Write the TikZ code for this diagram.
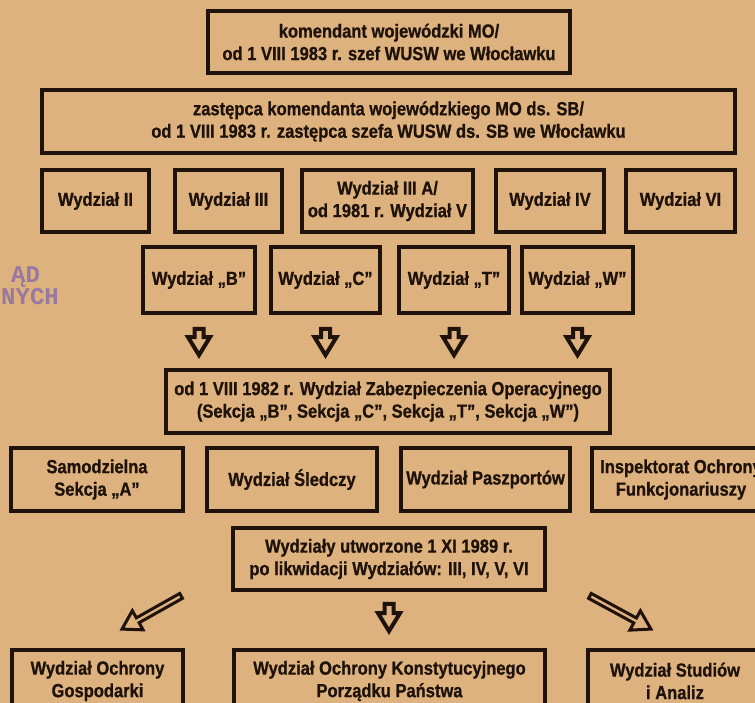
\documentclass[tikz,border=0pt]{standalone}
\usepackage{fontspec}
\setmainfont{Liberation Sans}[FakeStretch=0.87, FakeBold=0.8]
\newfontfamily\stampfont{Liberation Mono}
\usetikzlibrary{calc}
\definecolor{paper}{HTML}{DDB27E}
\definecolor{ink}{HTML}{1E120A}
\definecolor{stampink}{HTML}{8A6EA6}
\tikzset{
  box/.style={draw=ink, line width=3.8pt, inner sep=0pt, align=center, text=ink,
    font=\fontsize{19}{22.5}\selectfont\bfseries},
  barrow/.style={draw=ink, fill=paper, line width=4pt, line join=miter},
  darrow/.style={draw=ink, fill=paper, line width=3pt, line join=miter},
  stamptext/.style={text=stampink, opacity=0.85, anchor=base west, inner sep=0pt,
    font=\stampfont\fontsize{24}{24}\selectfont\bfseries},
}
% #1 style, #2 from, #3 to, #4 shaft half width, #5 head half width, #6 head length
\newcommand\blockarrow[6]{%
  \draw[#1] let \p1=($(#3)-(#2)$), \n1={atan2(\y1,\x1)}, \n2={veclen(\x1,\y1)} in
    [shift={(#2)}, rotate=\n1]
    (0,-#4) -- ({\n2-#6},-#4) -- ({\n2-#6},-#5) -- (\n2,0) -- ({\n2-#6},#5)
    -- ({\n2-#6},#4) -- (0,#4) -- cycle;}
\begin{document}
\begin{tikzpicture}[x=1pt,y=-1pt]
\useasboundingbox (0,0) rectangle (755,703);
\fill[paper] (0,0) rectangle (755,703);
\clip (0,0) rectangle (755,703);

% stamp
\node[stamptext] (st1) at (11,283) {ĄD};
\node[stamptext] (st2) at (1,305) {NYCH};

% boxes
\node[box, minimum width=362pt, minimum height=62pt] (kom) at (389,42)
  {komendant wojewódzki MO/\\od 1 VIII 1983 r. szef WUSW we Włocławku};
\node[box, minimum width=693pt, minimum height=63pt] (zast) at (388.5,121.5)
  {zastępca komendanta wojewódzkiego MO ds. SB/\\od 1 VIII 1983 r. zastępca szefa WUSW ds. SB we Włocławku};

\node[box, minimum width=107pt, minimum height=62pt] (w2) at (95.5,201) {Wydział II};
\node[box, minimum width=107pt, minimum height=62pt] (w3) at (228.5,201) {Wydział III};
\node[box, minimum width=171pt, minimum height=62pt] (w3a) at (387.5,201) {Wydział III A/\\od 1981 r. Wydział V};
\node[box, minimum width=108pt, minimum height=62pt] (w4) at (550,201) {Wydział IV};
\node[box, minimum width=109pt, minimum height=62pt] (w6) at (680.5,201) {Wydział VI};

\node[box, minimum width=112pt, minimum height=66pt] (wB) at (199,280) {Wydział „B”};
\node[box, minimum width=109pt, minimum height=66pt] (wC) at (325.5,280) {Wydział „C”};
\node[box, minimum width=110pt, minimum height=66pt] (wT) at (454,280) {Wydział „T”};
\node[box, minimum width=111pt, minimum height=66pt] (wW) at (577.5,280) {Wydział „W”};

\node[box, minimum width=444pt, minimum height=63pt] (zab) at (388,401.5)
  {od 1 VIII 1982 r. Wydział Zabezpieczenia Operacyjnego\\(Sekcja „B”, Sekcja „C”, Sekcja „T”, Sekcja „W”)};

\node[box, minimum width=172pt, minimum height=63pt] (sam) at (97,479.5) {Samodzielna\\Sekcja „A”};
\node[box, minimum width=170pt, minimum height=63pt] (sle) at (292,479.5) {Wydział Śledczy};
\node[box, minimum width=169pt, minimum height=63pt] (pas) at (485.5,479.5) {Wydział Paszportów};
\node[box, minimum width=178pt, minimum height=63pt] (ins) at (681,479.5) {Inspektorat Ochrony\\Funkcjonariuszy};

\node[box, minimum width=312pt, minimum height=62pt] (utw) at (389,559)
  {Wydziały utworzone 1 XI 1989 r.\\po likwidacji Wydziałów: III, IV, V, VI};

\node[box, minimum width=171pt, minimum height=62pt] (og) at (97.5,681) {Wydział Ochrony\\Gospodarki};
\node[box, minimum width=311pt, minimum height=62pt] (kon) at (389.5,681) {Wydział Ochrony Konstytucyjnego\\Porządku Państwa};
\node[box, minimum width=174pt, minimum height=62pt] (stu) at (675,681) {Wydział Studiów\\i Analiz};

% arrow end points
\foreach \nm in {wB,wC,wT,wW}{
  \coordinate (\nm s) at ($(\nm.south)+(0,14)$);
  \coordinate (\nm e) at ($(\nm.south |- zab.north)+(0,-13)$);
}
\coordinate (ls) at ($(utw.south west)+(-50,4)$);
\coordinate (le) at ($(og.north)+(24.5,-19)$);
\coordinate (ms) at ($(utw.south)+(0,12)$);
\coordinate (me) at ($(utw.south |- kon.north)+(0,-17)$);
\coordinate (rs) at ($(utw.south east)+(43,4)$);
\coordinate (re) at ($(stu.north)+(-24,-19)$);

\blockarrow{barrow}{wBs}{wBe}{4.5}{11}{18}
\blockarrow{barrow}{wCs}{wCe}{4.5}{11}{18}
\blockarrow{barrow}{wTs}{wTe}{4.5}{11}{18}
\blockarrow{barrow}{wWs}{wWe}{4.5}{11}{18}
\blockarrow{barrow}{ms}{me}{4.5}{11}{18}
\blockarrow{darrow}{ls}{le}{2.8}{11}{18}
\blockarrow{darrow}{rs}{re}{2.8}{11}{18}
\end{tikzpicture}
\end{document}
